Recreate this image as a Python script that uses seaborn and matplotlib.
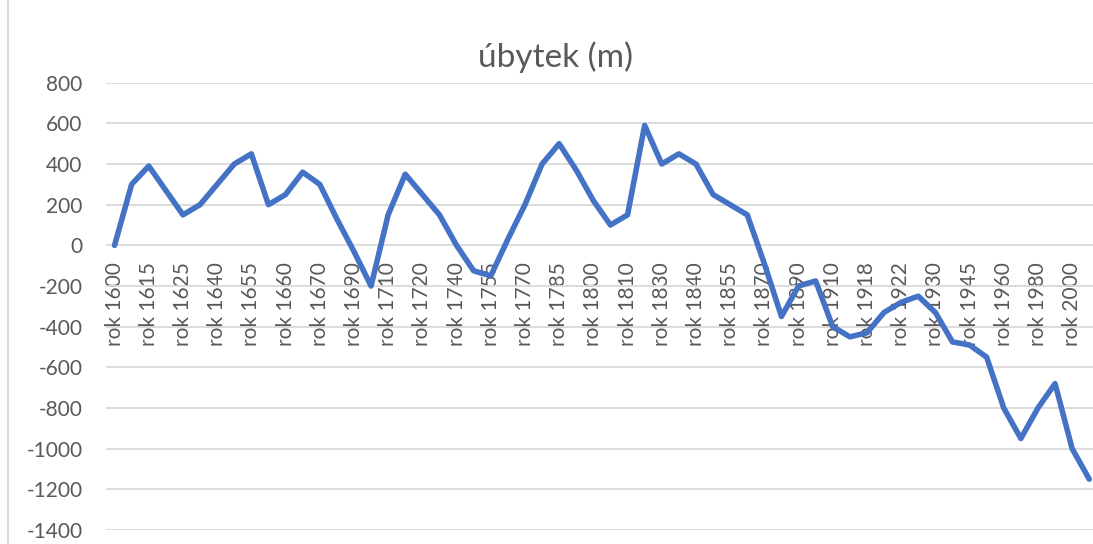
import pandas as pd
import matplotlib.pyplot as plt
import seaborn as sns
from matplotlib.lines import Line2D

# ---------------------------------------------------------
# Data
# ---------------------------------------------------------
roky = [1600, 1610, 1615, 1620, 1625, 1630, 1640, 1650, 1655, 1658,
        1660, 1665, 1670, 1680, 1690, 1700, 1710, 1715, 1720, 1730,
        1740, 1750, 1755, 1760, 1770, 1780, 1785, 1790, 1800, 1805,
        1810, 1820, 1830, 1835, 1840, 1850, 1855, 1860, 1870, 1880,
        1890, 1900, 1910, 1915, 1918, 1920, 1922, 1925, 1930, 1940,
        1945, 1950, 1960, 1970, 1980, 1990, 2000, 2010]

ubytek = [0, 300, 390, 270, 150, 200, 300, 400, 450, 200,
          250, 360, 300, 130, -30, -200, 150, 350, 250, 150,
          0, -125, -150, 30, 200, 400, 500, 370, 220, 100,
          150, 590, 400, 450, 400, 250, 200, 150, -90, -350,
          -200, -175, -400, -450, -430, -330, -280, -250, -330, -475,
          -490, -550, -800, -950, -800, -680, -1000, -1150]

kategorie = [f"rok {r}" for r in roky]
df = pd.DataFrame({"rok": kategorie, "ubytek": ubytek})

sedy = "#595959"
mrizka = "#D9D9D9"

# ---------------------------------------------------------
# Figure
# ---------------------------------------------------------
sns.set_style("white")
plt.rcParams["font.family"] = ["Lato", "DejaVu Sans"]
plt.rcParams["axes.unicode_minus"] = False

fig = plt.figure(figsize=(10.93, 5.44), dpi=100)
ax = fig.add_axes([106 / 1093, 14 / 544, 991.8 / 1093, 447.3 / 544])

sns.lineplot(data=df, x="rok", y="ubytek", ax=ax, sort=False,
             color="#4472C4", linewidth=4, solid_capstyle="round",
             solid_joinstyle="round")

ax.set_xlim(-0.5, len(kategorie) - 0.5)
ax.set_ylim(-1400, 800)
ax.set_yticks(range(-1400, 801, 200))
ax.yaxis.grid(True, color=mrizka, linewidth=1.3)
ax.set_axisbelow(True)

for s in ax.spines.values():
    s.set_visible(False)
ax.spines["bottom"].set_position(("data", 0))

ax.set_xticks(range(0, len(kategorie), 2))
ax.set_xticklabels(kategorie[::2], rotation=90)
ax.tick_params(axis="x", length=0, pad=12, labelsize=15, labelcolor=sedy)
ax.tick_params(axis="y", length=0, pad=17, labelsize=15, labelcolor=sedy)

ax.set_xlabel("")
ax.set_ylabel("")

fig.text(556 / 1093, 1 - 57 / 544, "úbytek (m)", ha="center", va="center",
         fontsize=24, color=sedy)

fig.add_artist(Line2D([8 / 1093, 8 / 1093], [0, 1], color=mrizka,
                      linewidth=1.5, transform=fig.transFigure))

fig.savefig("out.png", dpi=100)
